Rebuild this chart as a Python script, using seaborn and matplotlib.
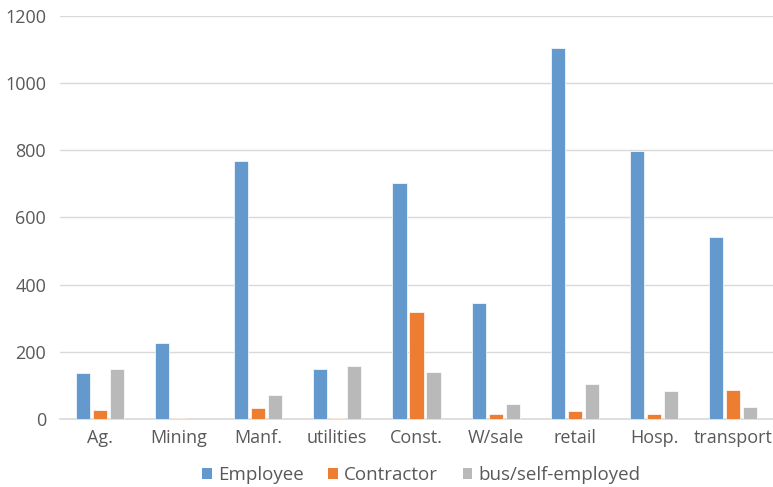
import matplotlib
matplotlib.use("Agg")
import matplotlib.pyplot as plt
import seaborn as sns
import pandas as pd
from matplotlib.patches import Patch

categories = ["Ag.", "Mining", "Manf.", "utilities", "Const.", "W/sale", "retail", "Hosp.", "transport"]
employee = [137, 225, 769, 150, 704, 345, 1104, 799, 541]
contractor = [27, 3, 33, 2, 319, 15, 25, 16, 87]
self_employed = [150, 0, 70, 157, 140, 45, 105, 84, 36]
series_names = ["Employee", "Contractor", "bus/self-employed"]
colors = ["#6399CD", "#ED7D31", "#B9B9B9"]

df = pd.DataFrame({
    "category": categories * 3,
    "value": employee + contractor + self_employed,
    "series": [s for s in series_names for _ in categories],
})

sns.set_theme(style="white")
plt.rcParams["font.family"] = ["Open Sans", "DejaVu Sans"]

fig = plt.figure(figsize=(7.73, 4.87), dpi=100)
ax = fig.add_axes([60 / 773, (487 - 419) / 487, (773 - 60) / 773, (419 - 16) / 487])

sns.barplot(data=df, x="category", y="value", hue="series", order=categories,
            hue_order=series_names, palette=colors, saturation=1, width=0.645, gap=0.17,
            edgecolor="white", linewidth=0.5, legend=False, ax=ax, zorder=3)

ax.set_xlim(-0.5, len(categories) - 0.5)
ax.set_ylim(0, 1200)
ax.set_yticks(range(0, 1201, 200))
ax.yaxis.grid(True, color="#D9D9D9", linewidth=1.0, zorder=0)
ax.set_axisbelow(True)
for side in ["top", "right", "left"]:
    ax.spines[side].set_visible(False)
ax.spines["bottom"].set_color("#D9D9D9")
ax.spines["bottom"].set_linewidth(1.2)
ax.set_xlabel("")
ax.set_ylabel("")
ax.tick_params(axis="both", length=0, labelsize=13, colors="#595959")
ax.tick_params(axis="y", pad=10)
ax.tick_params(axis="x", pad=7)

handles = [Patch(facecolor=c, edgecolor="none") for c in colors]
fig.legend(handles, series_names, loc="center", bbox_to_anchor=(0.545, 1 - 475 / 487),
           ncol=3, frameon=False, fontsize=13.5, handlelength=0.5, handleheight=0.5,
           handletextpad=0.35, columnspacing=1.3, labelcolor="#595959")

fig.savefig("out.png", dpi=100)
